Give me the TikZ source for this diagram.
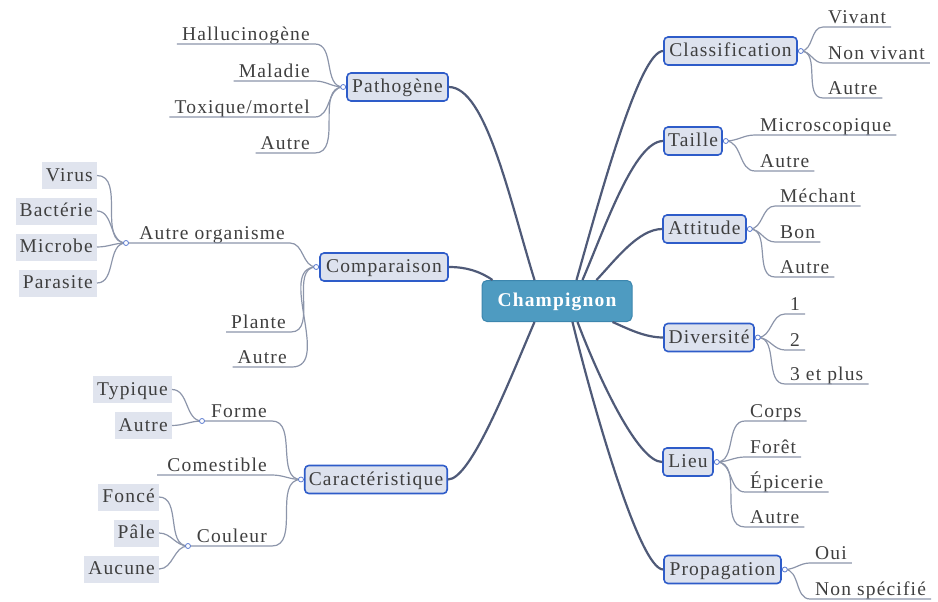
\documentclass[tikz,border=0pt]{standalone}
\usepackage{fontspec}
\setmainfont{Liberation Serif}
\definecolor{rootfill}{HTML}{4E9BC1}
\definecolor{rootdraw}{HTML}{3C86AE}
\definecolor{topfill}{HTML}{DDE2EE}
\definecolor{topdraw}{HTML}{2E5CC9}
\definecolor{leafbox}{HTML}{E0E4EE}
\definecolor{mainline}{HTML}{4F5A78}
\definecolor{subline}{HTML}{8C95AA}
\definecolor{txt}{HTML}{3F3F3F}
\definecolor{knobc}{HTML}{5B7BD0}
\newcommand{\fsz}{\fontsize{19.5}{22}\selectfont\addfontfeature{LetterSpace=6}}
\begin{document}
\begin{tikzpicture}[x=1pt,y=-1pt,
  font=\fsz,
  root/.style={fill=rootfill, draw=rootdraw, line width=1pt, rounded corners=5pt, minimum width=150pt, minimum height=41pt, text=white, font=\fsz\bfseries, text height=13pt, text depth=1.5pt},
  topic/.style={fill=topfill, draw=topdraw, line width=1.6pt, rounded corners=4pt, minimum height=28pt, inner xsep=4pt, text=txt, text height=13pt, text depth=1.5pt},
  leaf/.style={inner xsep=5pt, inner ysep=3.5pt, text=txt, text height=13pt, text depth=0pt},
  gbox/.style={fill=leafbox, inner xsep=4pt, minimum height=27pt, text height=13pt, text depth=1.5pt, text=txt},
  knob/.style={circle, draw=knobc, fill=white, line width=0.8pt, inner sep=0pt, minimum size=5pt},
  mainc/.style={draw=mainline, line width=2.2pt},
  subc/.style={draw=subline, line width=1.2pt},
]
\useasboundingbox (0,0) rectangle (938,602);

% root
\node[root] (root) at (557,301) {Champignon};

% topics
\node[topic, minimum width=101pt] (path) at (397.5,87) {Pathogène};
\node[topic, minimum width=128pt] (comp) at (384,267) {Comparaison};
\node[topic, minimum width=142pt] (cara) at (376,479.5) {Caractéristique};
\node[topic, minimum width=133pt] (cls) at (730.5,51) {Classification};
\node[topic, minimum width=58pt] (tai) at (693,141) {Taille};
\node[topic, minimum width=83pt] (att) at (704.5,229) {Attitude};
\node[topic, minimum width=90pt] (div) at (709,337.5) {Diversité};
\node[topic, minimum width=50pt] (lieu) at (688,462) {Lieu};
\node[topic, minimum width=117pt] (prop) at (722.5,569.5) {Propagation};

% root anchor points
\coordinate (rP) at ([xshift=53pt]root.north west);
\coordinate (rCo) at ([xshift=11pt]root.north west);
\coordinate (rCa) at ([xshift=53pt]root.south west);
\coordinate (rCl) at ([xshift=95pt]root.north west);
\coordinate (rT) at ([xshift=101pt]root.north west);
\coordinate (rA) at ([xshift=115pt]root.north west);
\coordinate (rD) at ([xshift=131pt]root.south west);
\coordinate (rL) at ([xshift=96pt]root.south west);
\coordinate (rPr) at ([xshift=91pt]root.south west);

% main connectors
\draw[mainc] (path.east) .. controls +(37,0) and +(-25,-81) .. (rP);
\draw[mainc] (comp.east) .. controls +(17,0) and +(-13,-9) .. (rCo);
\draw[mainc] (cara.east) .. controls +(23,0) and +(-25,58) .. (rCa);
\draw[mainc] (cls.west) .. controls +(-24,0) and +(23,-81) .. (rCl);
\draw[mainc] (tai.west) .. controls +(-29,0) and +(22,-51) .. (rT);
\draw[mainc] (att.west) .. controls +(-24,0) and +(18,-19) .. (rA);
\draw[mainc] (div.west) .. controls +(-19,0) and +(14,6) .. (rD);
\draw[mainc] (lieu.west) .. controls +(-24,0) and +(22,58) .. (rL);
\draw[mainc] (prop.west) .. controls +(-24,0) and +(19,78) .. (rPr);

% knob coordinates
\coordinate (kP) at ([xshift=-3pt]path.west);
\coordinate (kCo) at ([xshift=-3pt]comp.west);
\coordinate (kCa) at ([xshift=-3pt]cara.west);
\coordinate (kCl) at ([xshift=3pt]cls.east);
\coordinate (kT) at ([xshift=3pt]tai.east);
\coordinate (kA) at ([xshift=3pt]att.east);
\coordinate (kD) at ([xshift=3pt]div.east);
\coordinate (kL) at ([xshift=3pt]lieu.east);
\coordinate (kPr) at ([xshift=3pt]prop.east);
\coordinate (kAO) at (126,243);
\coordinate (kFo) at (202,421);
\coordinate (kCou) at (188,546);

% Pathogène leaves
\node[leaf, anchor=south east] (p1) at (315,44) {Hallucinogène};
\node[leaf, anchor=south east] (p2) at (315,81) {Maladie};
\node[leaf, anchor=south east] (p3) at (315,117) {Toxique/mortel};
\node[leaf, anchor=south east] (p4) at (315,153) {Autre};
\foreach \n in {p1,p2,p3,p4}
  \draw[subc] (kP) to[out=180,in=0] (\n.south east) -- (\n.south west);

% Comparaison leaves
\node[leaf, anchor=south east] (ao) at (290,243) {Autre organisme};
\node[leaf, anchor=south east] (c2) at (291,332) {Plante};
\node[leaf, anchor=south east] (c3) at (292,367) {Autre};
\draw[subc] (kCo) to[out=180,in=0] (ao.south east) -- (kAO);
\foreach \n in {c2,c3}
  \draw[subc] (kCo) to[out=180,in=0] (\n.south east) -- (\n.south west);

% Autre organisme boxes
\node[gbox, anchor=east] (g1) at (97,175.5) {Virus};
\node[gbox, anchor=east] (g2) at (97,211) {Bactérie};
\node[gbox, anchor=east] (g3) at (97,247) {Microbe};
\node[gbox, anchor=east] (g4) at (97,283) {Parasite};
\foreach \n in {g1,g2,g3,g4}
  \draw[subc] (\n.east) to[out=0,in=180] (kAO);

% Caractéristique leaves
\node[leaf, anchor=south east] (fo) at (272,421) {Forme};
\node[leaf, anchor=south east] (ce) at (272,475) {Comestible};
\node[leaf, anchor=south east] (cou) at (272,546) {Couleur};
\draw[subc] (kCa) to[out=180,in=0] (fo.south east) -- (kFo);
\draw[subc] (kCa) to[out=180,in=0] (ce.south east) -- ([xshift=-5pt]ce.south west);
\draw[subc] (kCa) to[out=180,in=0] (cou.south east) -- (kCou);

\node[gbox, anchor=east] (f1) at (172,389.5) {Typique};
\node[gbox, anchor=east] (f2) at (172,425.5) {Autre};
\foreach \n in {f1,f2}
  \draw[subc] (\n.east) to[out=0,in=180] (kFo);
\node[gbox, anchor=east] (k1) at (159,497) {Foncé};
\node[gbox, anchor=east] (k2) at (159,533) {Pâle};
\node[gbox, anchor=east] (k3) at (159,569) {Aucune};
\foreach \n in {k1,k2,k3}
  \draw[subc] (\n.east) to[out=0,in=180] (kCou);

% Right leaves
\node[leaf, anchor=south west] (cl1) at (823,27) {Vivant};
\node[leaf, anchor=south west] (cl2) at (823,63) {Non vivant};
\node[leaf, anchor=south west] (cl3) at (823,98) {Autre};
\foreach \n in {cl1,cl2,cl3}
  \draw[subc] (kCl) to[out=0,in=180] (\n.south west) -- (\n.south east);

\node[leaf, anchor=south west] (t1) at (755,135) {Microscopique};
\node[leaf, anchor=south west] (t2) at (755,171) {Autre};
\foreach \n in {t1,t2}
  \draw[subc] (kT) to[out=0,in=180] (\n.south west) -- (\n.south east);

\node[leaf, anchor=south west] (a1) at (775,206) {Méchant};
\node[leaf, anchor=south west] (a2) at (775,242) {Bon};
\node[leaf, anchor=south west] (a3) at (775,277) {Autre};
\foreach \n in {a1,a2,a3}
  \draw[subc] (kA) to[out=0,in=180] (\n.south west) -- (\n.south east);

\node[leaf, anchor=south west] (d1) at (785,314) {1};
\node[leaf, anchor=south west] (d2) at (785,350) {2};
\node[leaf, anchor=south west] (d3) at (785,384) {3 et plus};
\foreach \n in {d1,d2,d3}
  \draw[subc] (kD) to[out=0,in=180] (\n.south west) -- (\n.south east);

\node[leaf, anchor=south west] (l1) at (745,421) {Corps};
\node[leaf, anchor=south west] (l2) at (745,457) {Forêt};
\node[leaf, anchor=south west] (l3) at (745,492) {Épicerie};
\node[leaf, anchor=south west] (l4) at (745,527) {Autre};
\foreach \n in {l1,l2,l3,l4}
  \draw[subc] (kL) to[out=0,in=180] (\n.south west) -- (\n.south east);

\node[leaf, anchor=south west] (pr1) at (810,563) {Oui};
\node[leaf, anchor=south west] (pr2) at (810,599) {Non spécifié};
\foreach \n in {pr1,pr2}
  \draw[subc] (kPr) to[out=0,in=180] (\n.south west) -- (\n.south east);

% knobs
\foreach \k in {kP,kCo,kCa,kCl,kT,kA,kD,kL,kPr,kAO,kFo,kCou}
  \node[knob] (n\k) at (\k) {};
\end{tikzpicture}
\end{document}
